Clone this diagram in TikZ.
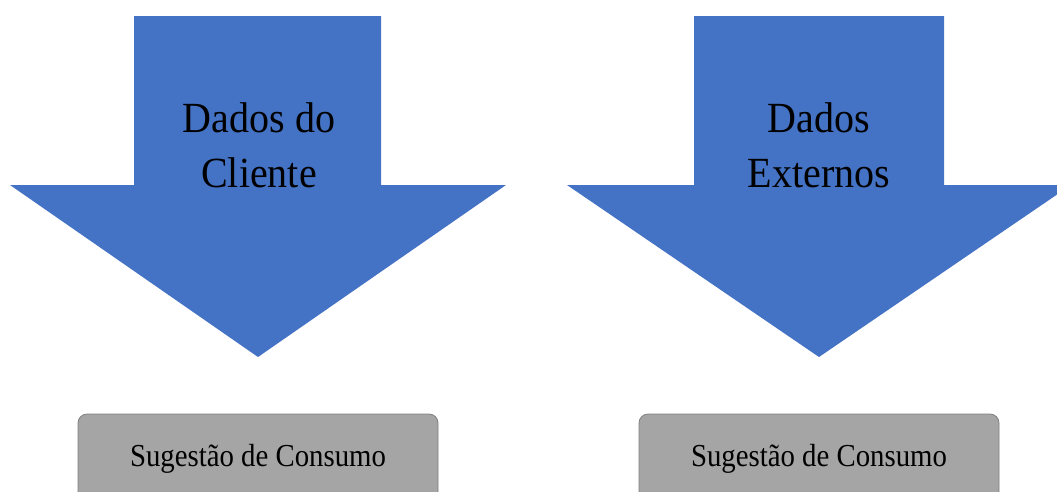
\documentclass[tikz,border=0pt]{standalone}
\usepackage{fontspec}
\setmainfont{Liberation Serif}
\newfontfamily\condbig[FakeStretch=0.93]{Liberation Serif}
\newfontfamily\condsmall[FakeStretch=0.9]{Liberation Serif}
\definecolor{arrowblue}{HTML}{4472C4}
\definecolor{boxgray}{HTML}{A5A5A5}
\definecolor{boxedge}{HTML}{7F7F7F}
\begin{document}
\begin{tikzpicture}[x=1pt,y=-1pt,
  bigarrow/.style={fill=arrowblue},
  arrowtext/.style={inner sep=0pt, align=center, text=black,
    font=\condbig\fontsize{43}{55}\selectfont},
  resultbox/.style={draw=boxedge, line width=0.8pt, fill=boxgray,
    rounded corners=9pt, minimum width=360pt, minimum height=90pt,
    inner sep=0pt, font=\condsmall\fontsize{32}{36}\selectfont}]
\useasboundingbox (0,0) rectangle (1057,491);
\clip (0,0) rectangle (1057,491);
% left arrow
\fill[bigarrow] (134,16) -- (381,16) -- (381,185) -- (506,185) -- (258,357)
  -- (10,185) -- (134,185) -- cycle;
% right arrow
\fill[bigarrow] (694,16) -- (944,16) -- (944,185) -- (1071,185) -- (819,357)
  -- (567,185) -- (694,185) -- cycle;
\node[arrowtext] (cliente) at (259,145) {Dados do\\Cliente};
\node[arrowtext] (externos) at (819,145) {Dados\\Externos};
\node[resultbox] (sug1) at (258,459) {Sugestão de Consumo};
\node[resultbox] (sug2) at (819,459) {Sugestão de Consumo};
\end{tikzpicture}
\end{document}
